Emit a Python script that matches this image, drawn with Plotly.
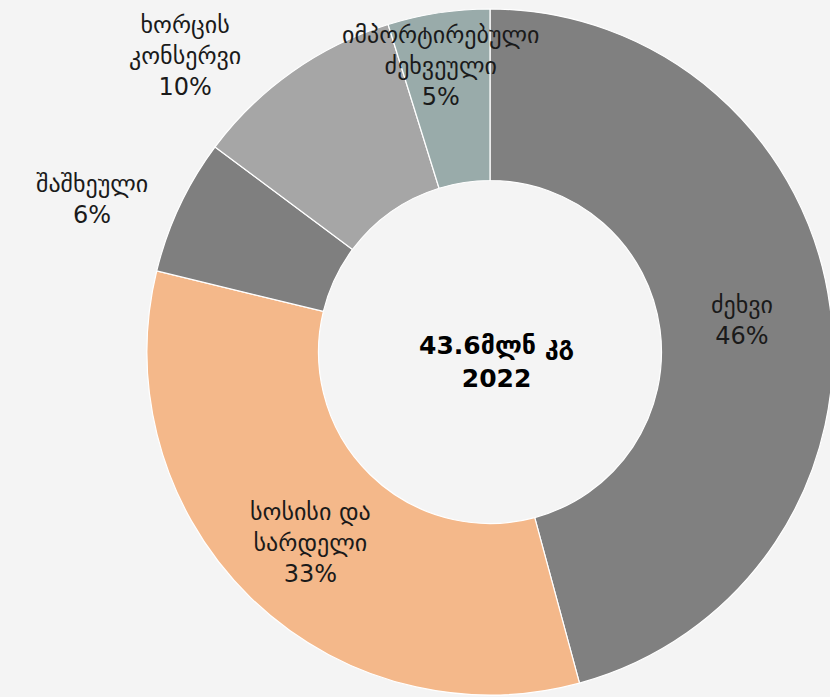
import plotly.graph_objects as go

labels = ["ძეხვი", "სოსისი და სარდელი", "შაშხეული", "ხორცის კონსერვი", "იმპორტირებული ძეხვეული"]
label_lines = [["ძეხვი"], ["სოსისი და", "სარდელი"], ["შაშხეული"], ["ხორცის", "კონსერვი"], ["იმპორტირებული", "ძეხვეული"]]
values = [45.8, 33.0, 6.4, 10.0, 4.8]
colors = ["#808080", "#f4b88a", "#7f7f7f", "#a6a6a6", "#99abaa"]
center_text = ["43.6მლნ კგ", "2022"]

W, H = 840, 697  # slightly wider than the window: the ring is clipped at the right edge
# label anchor positions in pixels (style)
label_pos = [(742, 320), (310, 543), (92, 200), (185, 56), (440, 66)]

cx, cy, r = 490, 352, 343
fig = go.Figure(go.Pie(
    labels=labels, values=values, sort=False, direction="clockwise", rotation=0,
    hole=0.5, marker=dict(colors=colors, line=dict(color="#ffffff", width=1.2)),
    textinfo="none", hoverinfo="label+percent", showlegend=False,
    domain=dict(x=[(cx - r) / W, (cx + r) / W], y=[1 - (cy + r) / H, 1 - (cy - r) / H]),
))

font = dict(family="DejaVu Sans", size=24, color="#1a1a1a")
for lines, v, (px, py) in zip(label_lines, values, label_pos):
    fig.add_annotation(
        text="<br>".join(lines + [f"{round(v)}%"]), x=px / W, y=1 - py / H, xref="paper", yref="paper",
        showarrow=False, xanchor="center", yanchor="middle", font=font, align="center",
    )
fig.add_annotation(
    text="<br>".join(f"<b>{t}</b>" for t in center_text), x=496 / W, y=1 - 362 / H,
    xref="paper", yref="paper", showarrow=False, xanchor="center", yanchor="middle",
    font=dict(family="DejaVu Sans", size=25, color="#000000"), align="center",
)

fig.update_layout(
    width=W, height=H, margin=dict(l=0, r=0, t=0, b=0),
    paper_bgcolor="#f4f4f4", plot_bgcolor="#f4f4f4",
)
fig.write_html(
    "out.html",
    config={"displayModeBar": False},
    post_script="document.body.style.margin='0';document.body.style.overflow='hidden';document.body.style.background='#f4f4f4';",
)
